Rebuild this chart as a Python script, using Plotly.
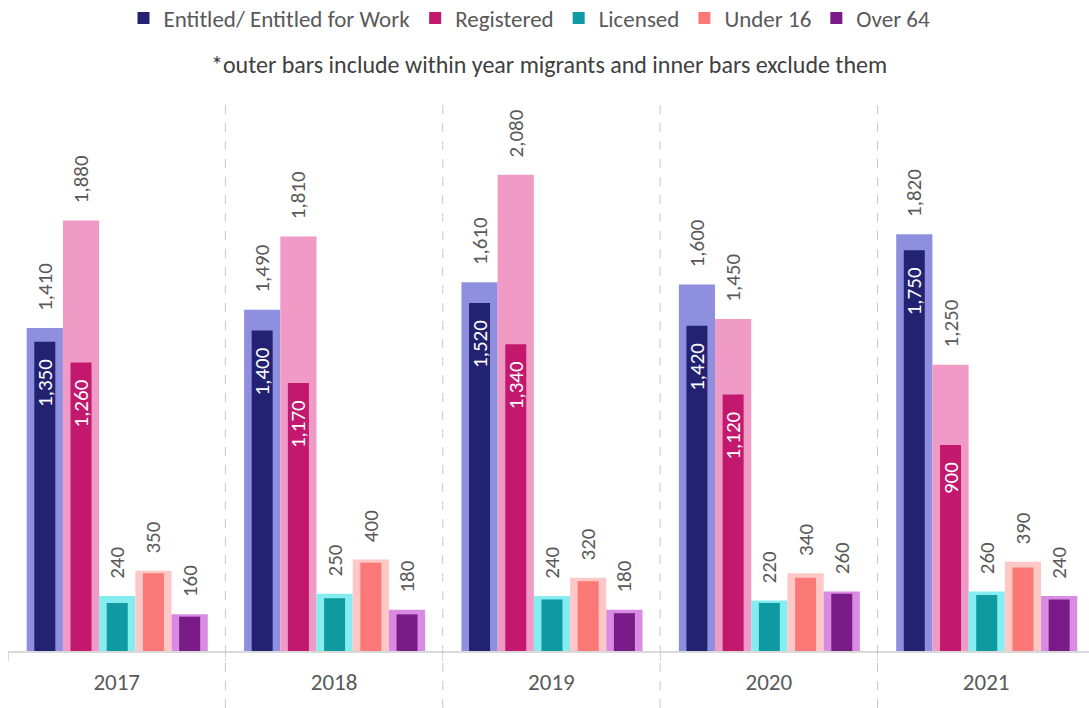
import plotly.graph_objects as go

years = ["2017", "2018", "2019", "2020", "2021"]
series = ["Entitled/ Entitled for Work", "Registered", "Licensed", "Under 16", "Over 64"]

outer_entitled = [1410, 1490, 1610, 1600, 1820]
outer_registered = [1880, 1810, 2080, 1450, 1250]
outer_licensed = [240, 250, 240, 220, 260]
outer_under16 = [350, 400, 320, 340, 390]
outer_over64 = [160, 180, 180, 260, 240]

inner_entitled = [1350, 1400, 1520, 1420, 1750]
inner_registered = [1260, 1170, 1340, 1120, 900]
inner_licensed = [210, 230, 225, 210, 245]
inner_under16 = [340, 385, 305, 320, 365]
inner_over64 = [150, 160, 165, 250, 225]

outer_vals = [outer_entitled, outer_registered, outer_licensed, outer_under16, outer_over64]
inner_vals = [inner_entitled, inner_registered, inner_licensed, inner_under16, inner_over64]
inner_labelled = [True, True, False, False, False]

inner_colors = ["#222271", "#C2186D", "#0E9AA0", "#FA7876", "#791C87"]
outer_colors = ["#8F8FDF", "#F09AC6", "#85EDF0", "#FDC8C6", "#D78CE2"]

FONT = "Carlito, Lato, 'Open Sans', sans-serif"
GRAY = "#595959"
NB = "\u00a0"

W_OUT = 0.1666
W_IN = 0.0966
START = -0.414

fig = go.Figure()

for j, name in enumerate(series):
    off = START + j * W_OUT
    fig.add_trace(go.Bar(
        x=years, y=outer_vals[j], name=name, showlegend=False,
        width=W_OUT, offset=off,
        marker=dict(color=outer_colors[j], line=dict(width=0)),
        texttemplate=NB * 3 + "%{y:,}", textposition="outside", textangle=-90,
        constraintext="none",
        outsidetextfont=dict(family=FONT, size=21, color=GRAY),
        cliponaxis=False, hoverinfo="skip",
    ))

for j, name in enumerate(series):
    off = START + j * W_OUT + (W_OUT - W_IN) / 2
    if inner_labelled[j]:
        kw = dict(texttemplate="%{y:,}" + NB * 3, textposition="inside", insidetextanchor="end",
                  textangle=-90, constraintext="none",
                  insidetextfont=dict(family=FONT, size=21, color="white"))
    else:
        kw = dict(textposition="none")
    fig.add_trace(go.Bar(
        x=years, y=inner_vals[j], name=name, showlegend=True,
        width=W_IN, offset=off,
        marker=dict(color=inner_colors[j], line=dict(width=0)),
        cliponaxis=False, **kw,
    ))

shapes = []
for i in range(len(years) - 1):
    shapes.append(dict(type="line", xref="x", yref="paper", x0=i + 0.5, x1=i + 0.5,
                       y0=-(708 - 651) / 551, y1=1.0,
                       line=dict(color="#C8C8C8", width=1, dash="dash")))

fig.update_layout(
    width=1089, height=708,
    margin=dict(l=8, r=0, t=100, b=57, autoexpand=False),
    paper_bgcolor="white", plot_bgcolor="white",
    barmode="overlay",
    font=dict(family=FONT, size=21, color=GRAY),
    legend=dict(orientation="h", x=0.5 - 15 / 1089, xanchor="center", y=1 - 18 / 708, yanchor="middle",
                yref="container", xref="container", traceorder="normal",
                font=dict(family=FONT, size=23, color=GRAY), itemwidth=30),
    xaxis=dict(type="category", range=[-0.5, 4.473], showgrid=False,
               showline=True, linecolor="#D9D9D9", linewidth=1.5,
               ticks="outside", tickson="boundaries", ticklen=8, tickcolor="#D9D9D9",
               ticklabelstandoff=10,
               tickfont=dict(family=FONT, size=23, color=GRAY)),
    yaxis=dict(range=[0, 2406], visible=False, showgrid=False, zeroline=False),
    shapes=shapes,
    annotations=[dict(text="*outer bars include within year migrants and inner bars exclude them",
                      xref="paper", yref="paper", x=0.5, y=(651 - 64) / 551,
                      xanchor="center", yanchor="middle", showarrow=False,
                      font=dict(family=FONT, size=24, color="#404040"))],
)

fig.write_html("out.html", config={"displayModeBar": False},
               post_script="document.body.style.margin='0';")
